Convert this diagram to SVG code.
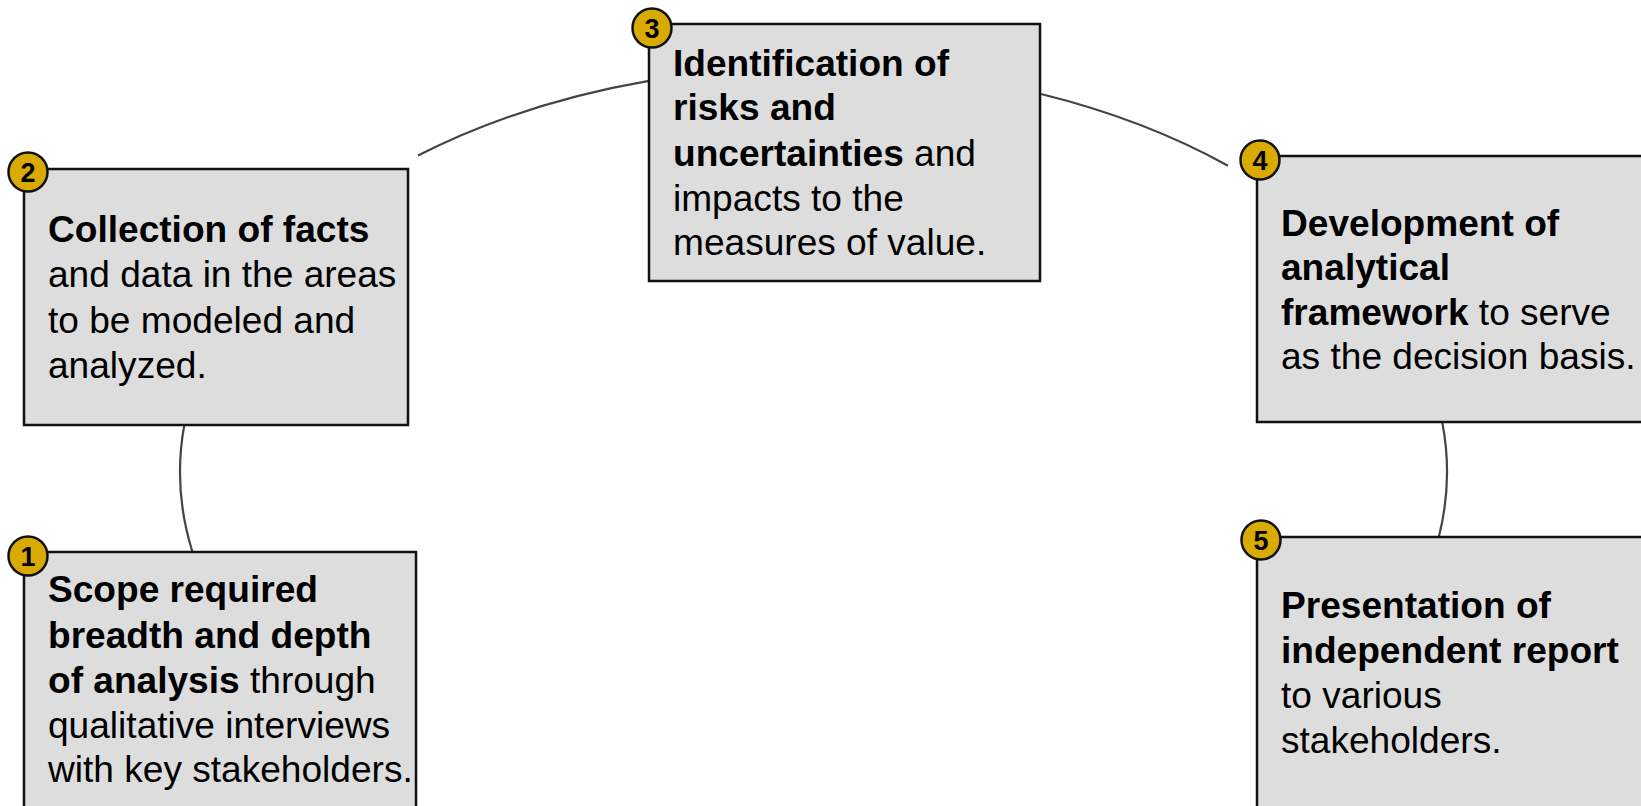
<svg xmlns="http://www.w3.org/2000/svg" width="1641" height="806" viewBox="0 0 1641 806">
  <style>
    .box { fill: #dddddd; stroke: #111111; stroke-width: 2.5; }
    .badge { fill: #d9aa00; stroke: #111111; stroke-width: 2.5; }
    .num { font-family: "Liberation Sans", Arial, Helvetica, sans-serif; font-size: 27px; font-weight: bold; fill: #000; text-anchor: middle; }
    .txt { font-family: "Liberation Sans", Arial, Helvetica, sans-serif; font-size: 37.1px; fill: #000; }
    .b { font-weight: bold; }
    .arc { fill: none; stroke: #444444; stroke-width: 2.2; }
  </style>
  <rect width="1641" height="806" fill="#ffffff"/>

  <!-- connectors: segments of one ellipse (cx 813.5, cy 472, rx 633.5, ry 405) -->
  <g id="connectors">
    <path class="arc" d="M184.3,425 A633.5,405 0 0 0 192.5,552"/>
    <path class="arc" d="M418,155.6 A633.5,405 0 0 1 649,80.9"/>
    <path class="arc" d="M1041,94 A633.5,405 0 0 1 1228,165.7"/>
    <path class="arc" d="M1442.2,422 A633.5,405 0 0 1 1438.8,537"/>
  </g>

  <g id="step1">
    <rect class="box" x="24" y="552" width="392" height="280"/>
    <circle class="badge" cx="28" cy="556" r="19.5"/>
    <text class="num" x="28" y="565.5">1</text>
    <text class="txt">
      <tspan x="48" y="602" class="b">Scope required</tspan>
      <tspan x="48" y="648" class="b">breadth and depth</tspan>
      <tspan x="48" y="693"><tspan class="b">of analysis</tspan> through</tspan>
      <tspan x="48" y="738">qualitative interviews</tspan>
      <tspan x="48" y="782">with key stakeholders.</tspan>
    </text>
  </g>

  <g id="step2">
    <rect class="box" x="24" y="169" width="384" height="256"/>
    <circle class="badge" cx="28" cy="172" r="19.5"/>
    <text class="num" x="28" y="181.5">2</text>
    <text class="txt">
      <tspan x="48" y="242" class="b">Collection of facts</tspan>
      <tspan x="48" y="287">and data in the areas</tspan>
      <tspan x="48" y="333">to be modeled and</tspan>
      <tspan x="48" y="378">analyzed.</tspan>
    </text>
  </g>

  <g id="step3">
    <rect class="box" x="649" y="24" width="391" height="257"/>
    <circle class="badge" cx="652" cy="28" r="19.5"/>
    <text class="num" x="652" y="37.5">3</text>
    <text class="txt">
      <tspan x="673" y="76" class="b">Identification of</tspan>
      <tspan x="673" y="120" class="b">risks and</tspan>
      <tspan x="673" y="166"><tspan class="b">uncertainties</tspan> and</tspan>
      <tspan x="673" y="211">impacts to the</tspan>
      <tspan x="673" y="255">measures of value.</tspan>
    </text>
  </g>

  <g id="step4">
    <rect class="box" x="1257" y="156" width="420" height="266"/>
    <circle class="badge" cx="1260" cy="160" r="19.5"/>
    <text class="num" x="1260" y="169.5">4</text>
    <text class="txt">
      <tspan x="1281" y="236" class="b">Development of</tspan>
      <tspan x="1281" y="280" class="b">analytical</tspan>
      <tspan x="1281" y="325"><tspan class="b">framework</tspan> to serve</tspan>
      <tspan x="1281" y="369">as the decision basis.</tspan>
    </text>
  </g>

  <g id="step5">
    <rect class="box" x="1257" y="537" width="420" height="300"/>
    <circle class="badge" cx="1261" cy="540" r="19.5"/>
    <text class="num" x="1261" y="549.5">5</text>
    <text class="txt">
      <tspan x="1281" y="618" class="b">Presentation of</tspan>
      <tspan x="1281" y="663" class="b">independent report</tspan>
      <tspan x="1281" y="708">to various</tspan>
      <tspan x="1281" y="753">stakeholders.</tspan>
    </text>
  </g>
</svg>
